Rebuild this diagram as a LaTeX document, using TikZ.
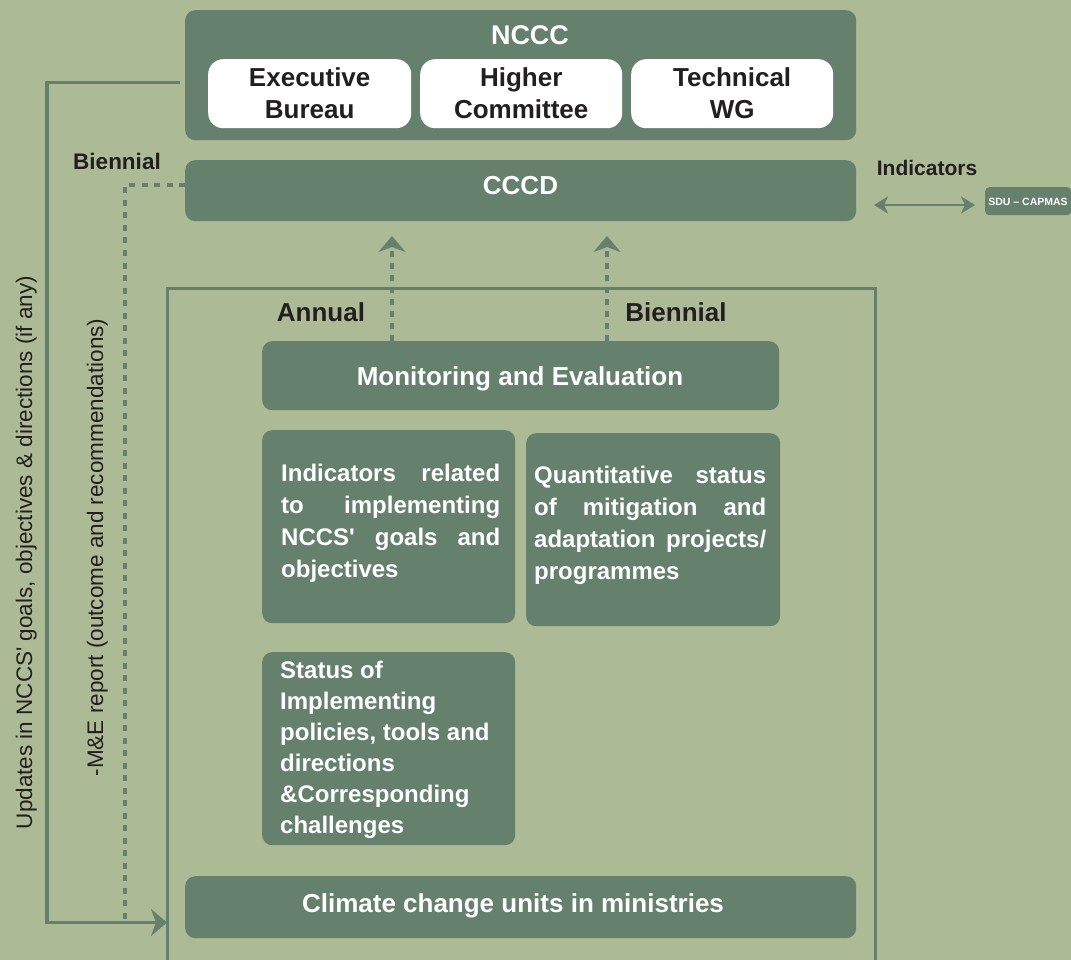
\documentclass[tikz,border=0pt]{standalone}
\usepackage{fontspec}
\setmainfont{Liberation Sans}
\usetikzlibrary{arrows.meta}
\definecolor{bgc}{RGB}{173,186,150}
\definecolor{boxc}{RGB}{101,129,110}
\definecolor{inkc}{RGB}{35,31,32}
\newcommand{\fsz}[2]{\fontsize{#1}{#2}\selectfont}
\begin{document}
\begin{tikzpicture}[x=1pt,y=-1pt,
  gbox/.style={fill=boxc, rounded corners=10pt, inner sep=0pt, anchor=north west},
  wbox/.style={fill=white, rounded corners=15pt, inner sep=0pt, anchor=north west,
    minimum width=203pt, minimum height=69pt, align=center, text=inkc,
    font=\fsz{26}{32}\bfseries},
  wlabel/.style={text=white, font=\fsz{26}{32}\bfseries, inner sep=0pt, anchor=base},
  klabel/.style={text=inkc, font=\fsz{26}{32}\bfseries, inner sep=0pt, anchor=base},
  rlabel/.style={text=inkc, font=\fsz{22.5}{26}, inner sep=0pt, anchor=base, rotate=90},
  ptext/.style={text=white, inner sep=0pt, anchor=base west},
  conn/.style={draw=boxc, line width=3.3pt},
  dconn/.style={draw=boxc, line width=3.2pt, dash pattern=on 6pt off 6.5pt},
  bigtip/.style={-{Stealth[length=16pt,width=27pt,inset=5pt]}},
  dbltip/.style={{Stealth[length=14pt,width=17pt,inset=4pt]}-{Stealth[length=14pt,width=17pt,inset=4pt]}}
]
\fill[bgc] (0,0) rectangle (1071,960);
\useasboundingbox (0,0) rectangle (1071,960);

% outer frame
\draw[draw=boxc, line width=3pt] (167,975) -- (167,288) -- (875,288) -- (875,975);

% NCCC
\node[gbox, minimum width=671pt, minimum height=130pt] (nccc) at (185,10) {};
\node[wlabel, font=\fsz{27}{32}\bfseries] (nccct) at (530,45) {NCCC};
\node[wbox] (eb) at (208,59) {Executive\\Bureau};
\node[wbox, minimum width=202pt] (hc) at (420,59) {Higher\\Committee};
\node[wbox, minimum width=202pt] (tw) at (631,59) {Technical\\WG};

% CCCD
\node[gbox, minimum width=671pt, minimum height=61pt] (cccd) at (185,160) {};
\node[wlabel] (cccdt) at (520.5,195) {CCCD};

% SDU - CAPMAS
\node[gbox, minimum width=86pt, minimum height=28pt, rounded corners=4pt] (sdu) at (985,187) {};
\node[wlabel, font=\fsz{10.5}{12}\bfseries] (sdut) at (1028,206) {SDU – CAPMAS};
\node[klabel, font=\fsz{21}{24}\bfseries] (indl) at (927,175.5) {Indicators};
\coordinate (dl) at (874,205);
\coordinate (dr) at (975,205);
\draw[conn, line width=2.5pt, dbltip] (dl) -- (dr);

% labels
\node[klabel, font=\fsz{22.5}{26}\bfseries] (bien1) at (117,170) {Biennial};
\node[klabel] (annual) at (321,321) {Annual};
\node[klabel] (bien2) at (676,321) {Biennial};

% M&E
\node[gbox, minimum width=517pt, minimum height=69pt] (me) at (262,341) {};
\node[wlabel] (met) at (520,385) {Monitoring and Evaluation};

\node[gbox, minimum width=253pt, minimum height=193pt] (ind) at (262,430) {};
\node[ptext] (indt) at (281,481) {\parbox[t]{219pt}{\fsz{24}{32}\bfseries
  \makebox[\linewidth][s]{Indicators related}\par
  \makebox[\linewidth][s]{to implementing}\par
  \makebox[\linewidth][s]{NCCS\textquotesingle{} goals and}\par
  objectives}};

\node[gbox, minimum width=254pt, minimum height=193pt] (qs) at (526,433) {};
\node[ptext] (qst) at (534,483) {\parbox[t]{232pt}{\fsz{24}{32}\bfseries
  \makebox[\linewidth][s]{Quantitative status}\par
  \makebox[\linewidth][s]{of mitigation and}\par
  \makebox[\linewidth][s]{adaptation projects/}\par
  programmes}};

\node[gbox, minimum width=253pt, minimum height=193pt] (st) at (262,652) {};
\node[ptext] (stt) at (280,678) {\parbox[t]{230pt}{\fsz{24}{31}\bfseries
  Status of\par
  Implementing\par
  policies, tools and\par
  directions\par
  \&Corresponding\par
  challenges}};

% Climate change units
\node[gbox, minimum width=671pt, minimum height=62pt] (ccu) at (185,876) {};
\node[wlabel] (ccut) at (513,912) {Climate change units in ministries};

% dashed up arrows
\coordinate (a1) at (392,236);
\coordinate (a2) at (607,236);
\draw[dconn, bigtip, dash pattern=on 6pt off 6pt] (me.north -| a1) -- (a1);
\draw[dconn, bigtip, dash pattern=on 6pt off 6pt] (me.north -| a2) -- (a2);

% left solid connector
\coordinate (s0) at (180,82.5);
\coordinate (s1) at (47,82.5);
\coordinate (s2) at (47,922.5);
\coordinate (s3) at (167,922.5);
\draw[conn, bigtip] (s0) -- (s1) -- (s2) -- (s3);

% left dashed connector
\coordinate (d1) at (125,185);
\coordinate (d2) at (125,922);
\draw[dconn] (cccd.west |- d1) -- (d1) -- (d2);

% rotated texts
\node[rlabel] (upd) at (32,552.5) {Updates in NCCS\textquotesingle{} goals, objectives \& directions (if any)};
\node[rlabel] (mer) at (103,547.5) {-M\&E report (outcome and recommendations)};
\end{tikzpicture}
\end{document}
